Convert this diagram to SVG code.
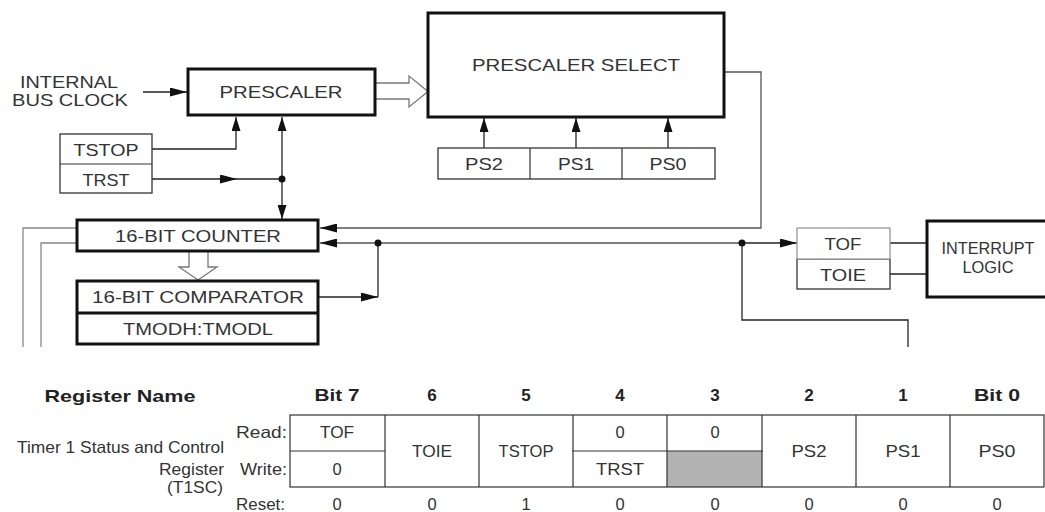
<svg xmlns="http://www.w3.org/2000/svg" width="1045" height="512" viewBox="0 0 1045 512">
<style>
text{font-family:"Liberation Sans",Arial,sans-serif;fill:#333;text-anchor:middle}
.d{font-size:17px}
.t{font-size:16.5px}
.b{font-weight:bold;font-size:17px;fill:#222}
.r{text-anchor:end}
.thick{fill:#fff;stroke:#111;stroke-width:3}
.thin{fill:#fff;stroke:#333;stroke-width:1.3}
.grayb{fill:#fff;stroke:#999;stroke-width:1.3}
.w{fill:none;stroke:#222;stroke-width:1.3}
.gw{fill:none;stroke:#888;stroke-width:1.3}
.dw{fill:none;stroke:#555;stroke-width:1.3}
.hollow{fill:#fff;stroke:#777;stroke-width:1.3}
.tl{fill:none;stroke:#333;stroke-width:1.2}
</style>
<defs>
<marker id="ah" viewBox="0 0 17 9" refX="17" refY="4.5" markerWidth="17" markerHeight="9" orient="auto" markerUnits="userSpaceOnUse"><path d="M0,0 L17,4.5 L0,9 z" fill="#111"/></marker>
<marker id="av" viewBox="0 0 14 9" refX="14" refY="4.5" markerWidth="14" markerHeight="9" orient="auto" markerUnits="userSpaceOnUse"><path d="M0,0 L14,4.5 L0,9 z" fill="#111"/></marker>
</defs>

<g id="connectors">
  <path class="w" d="M143,92 H187" marker-end="url(#ah)"/>
  <path class="w" d="M152,149 H236 V117" marker-end="url(#av)"/>
  <path class="w" d="M152,179 H237" marker-end="url(#ah)"/>
  <path class="w" d="M237,179 H282"/>
  <path class="w" d="M282,179 V117" marker-end="url(#av)"/>
  <path class="w" d="M282,179 V219" marker-end="url(#av)"/>
  <circle cx="282" cy="179" r="3.5" fill="#111"/>
  <path class="w" d="M484,148 V118" marker-end="url(#av)"/>
  <path class="w" d="M576,148 V118" marker-end="url(#av)"/>
  <path class="w" d="M668,148 V118" marker-end="url(#av)"/>
  <path class="hollow" d="M375,83 H409 V76 L428,91.5 L409,107 V99 H375"/>
  <path class="dw" d="M724,72 H761 V228 H320" marker-end="url(#ah)"/>
  <path class="dw" d="M742,243 H320" marker-end="url(#ah)"/>
  <path class="w" d="M742,243 H797" marker-end="url(#ah)"/>
  <circle cx="742" cy="243" r="3.5" fill="#111"/>
  <path class="w" d="M742,243 V320 H908 V347"/>
  <path class="w" d="M318,297 H378" marker-end="url(#ah)"/>
  <path class="w" d="M378,297 V243"/>
  <circle cx="378" cy="243" r="3.5" fill="#111"/>
  <path class="hollow" d="M189,252 V267 H179 L198,280 L217,267 H208 V252"/>
  <path class="gw" d="M77,228 H23 V347"/>
  <path class="gw" d="M77,243 H41 V347"/>
  <path class="w" d="M890,243 H927"/>
  <path class="w" d="M890,274 H927"/>
</g>

<g id="clock-label">
  <text class="d" x="69" y="88" textLength="98" lengthAdjust="spacingAndGlyphs">INTERNAL</text>
  <text class="d" x="70" y="106" textLength="116" lengthAdjust="spacingAndGlyphs">BUS CLOCK</text>
</g>

<g id="prescaler">
  <rect class="thick" x="188" y="69" width="187" height="46"/>
  <text class="d" x="281" y="98" textLength="123" lengthAdjust="spacingAndGlyphs">PRESCALER</text>
</g>

<g id="tstop-trst">
  <rect class="thin" x="60" y="134" width="92" height="59"/>
  <line class="tl" x1="60" y1="164" x2="152" y2="164"/>
  <text class="d" x="106" y="156" textLength="65" lengthAdjust="spacingAndGlyphs">TSTOP</text>
  <text class="d" x="106" y="186" textLength="47" lengthAdjust="spacingAndGlyphs">TRST</text>
</g>

<g id="prescaler-select">
  <rect class="thick" x="428" y="13" width="296" height="104"/>
  <text class="d" x="576" y="71" textLength="208" lengthAdjust="spacingAndGlyphs">PRESCALER SELECT</text>
</g>

<g id="ps-bits">
  <rect class="thin" x="438" y="148" width="277" height="31"/>
  <line class="tl" x1="530" y1="148" x2="530" y2="179"/>
  <line class="tl" x1="622" y1="148" x2="622" y2="179"/>
  <text class="d" x="484" y="170" textLength="38" lengthAdjust="spacingAndGlyphs">PS2</text>
  <text class="d" x="576" y="170" textLength="36" lengthAdjust="spacingAndGlyphs">PS1</text>
  <text class="d" x="668" y="170" textLength="37" lengthAdjust="spacingAndGlyphs">PS0</text>
</g>

<g id="counter">
  <rect class="thick" x="77" y="220" width="241" height="31"/>
  <text class="d" x="198" y="242" textLength="166" lengthAdjust="spacingAndGlyphs">16-BIT COUNTER</text>
</g>

<g id="comparator">
  <rect class="thick" x="77" y="281" width="241" height="63"/>
  <line x1="77" y1="313" x2="318" y2="313" stroke="#111" stroke-width="3"/>
  <text class="d" x="198" y="303" textLength="212" lengthAdjust="spacingAndGlyphs">16-BIT COMPARATOR</text>
  <text class="d" x="198" y="335" textLength="150" lengthAdjust="spacingAndGlyphs">TMODH:TMODL</text>
</g>

<g id="tof-toie">
  <rect class="thin" x="797" y="259" width="93" height="30"/>
  <rect class="grayb" x="797" y="228" width="93" height="31"/>
  <text class="d" x="843" y="250" textLength="37" lengthAdjust="spacingAndGlyphs">TOF</text>
  <text class="d" x="843" y="281" textLength="46" lengthAdjust="spacingAndGlyphs">TOIE</text>
</g>

<g id="interrupt-logic">
  <rect class="thick" x="927" y="221" width="130" height="76"/>
  <text class="d" x="988" y="254" textLength="93" lengthAdjust="spacingAndGlyphs">INTERRUPT</text>
  <text class="d" x="988" y="273" textLength="51" lengthAdjust="spacingAndGlyphs">LOGIC</text>
</g>

<g id="register-table">
  <text class="b" x="120" y="402" textLength="151" lengthAdjust="spacingAndGlyphs">Register Name</text>
  <text class="b" x="337" y="401" textLength="45" lengthAdjust="spacingAndGlyphs">Bit 7</text>
  <text class="b" x="432" y="401">6</text>
  <text class="b" x="526" y="401">5</text>
  <text class="b" x="620" y="401">4</text>
  <text class="b" x="715" y="401">3</text>
  <text class="b" x="809" y="401">2</text>
  <text class="b" x="903" y="401">1</text>
  <text class="b" x="997" y="401" textLength="46" lengthAdjust="spacingAndGlyphs">Bit 0</text>

  <text class="t r" x="224" y="453" textLength="207" lengthAdjust="spacingAndGlyphs">Timer 1 Status and Control</text>
  <text class="t r" x="224" y="475" textLength="65" lengthAdjust="spacingAndGlyphs">Register</text>
  <text class="t r" x="223" y="493" textLength="56" lengthAdjust="spacingAndGlyphs">(T1SC)</text>
  <text class="t r" x="287" y="438" textLength="51" lengthAdjust="spacingAndGlyphs">Read:</text>
  <text class="t r" x="287" y="475" textLength="47" lengthAdjust="spacingAndGlyphs">Write:</text>
  <text class="t r" x="285" y="510" textLength="49" lengthAdjust="spacingAndGlyphs">Reset:</text>

  <rect x="667" y="451" width="95" height="36" fill="#b3b3b3"/>
  <rect class="tl" x="290" y="415" width="754" height="72"/>
  <path class="tl" d="M385,415 V487 M479,415 V487 M573,415 V487 M667,415 V487 M762,415 V487 M856,415 V487 M950,415 V487"/>
  <path class="tl" d="M290,451 H385 M572,451 H763"/>

  <text class="t" x="337" y="438" textLength="34" lengthAdjust="spacingAndGlyphs">TOF</text>
  <text class="t" x="337" y="475">0</text>
  <text class="t" x="432" y="457" textLength="40" lengthAdjust="spacingAndGlyphs">TOIE</text>
  <text class="t" x="526" y="457" textLength="55" lengthAdjust="spacingAndGlyphs">TSTOP</text>
  <text class="t" x="620" y="438">0</text>
  <text class="t" x="620" y="475" textLength="48" lengthAdjust="spacingAndGlyphs">TRST</text>
  <text class="t" x="715" y="438">0</text>
  <text class="t" x="809" y="457" textLength="35" lengthAdjust="spacingAndGlyphs">PS2</text>
  <text class="t" x="903" y="457" textLength="35" lengthAdjust="spacingAndGlyphs">PS1</text>
  <text class="t" x="997" y="457" textLength="37" lengthAdjust="spacingAndGlyphs">PS0</text>

  <text class="t" x="337" y="510">0</text>
  <text class="t" x="432" y="510">0</text>
  <text class="t" x="526" y="510">1</text>
  <text class="t" x="620" y="510">0</text>
  <text class="t" x="715" y="510">0</text>
  <text class="t" x="809" y="510">0</text>
  <text class="t" x="903" y="510">0</text>
  <text class="t" x="997" y="510">0</text>
</g>
</svg>
